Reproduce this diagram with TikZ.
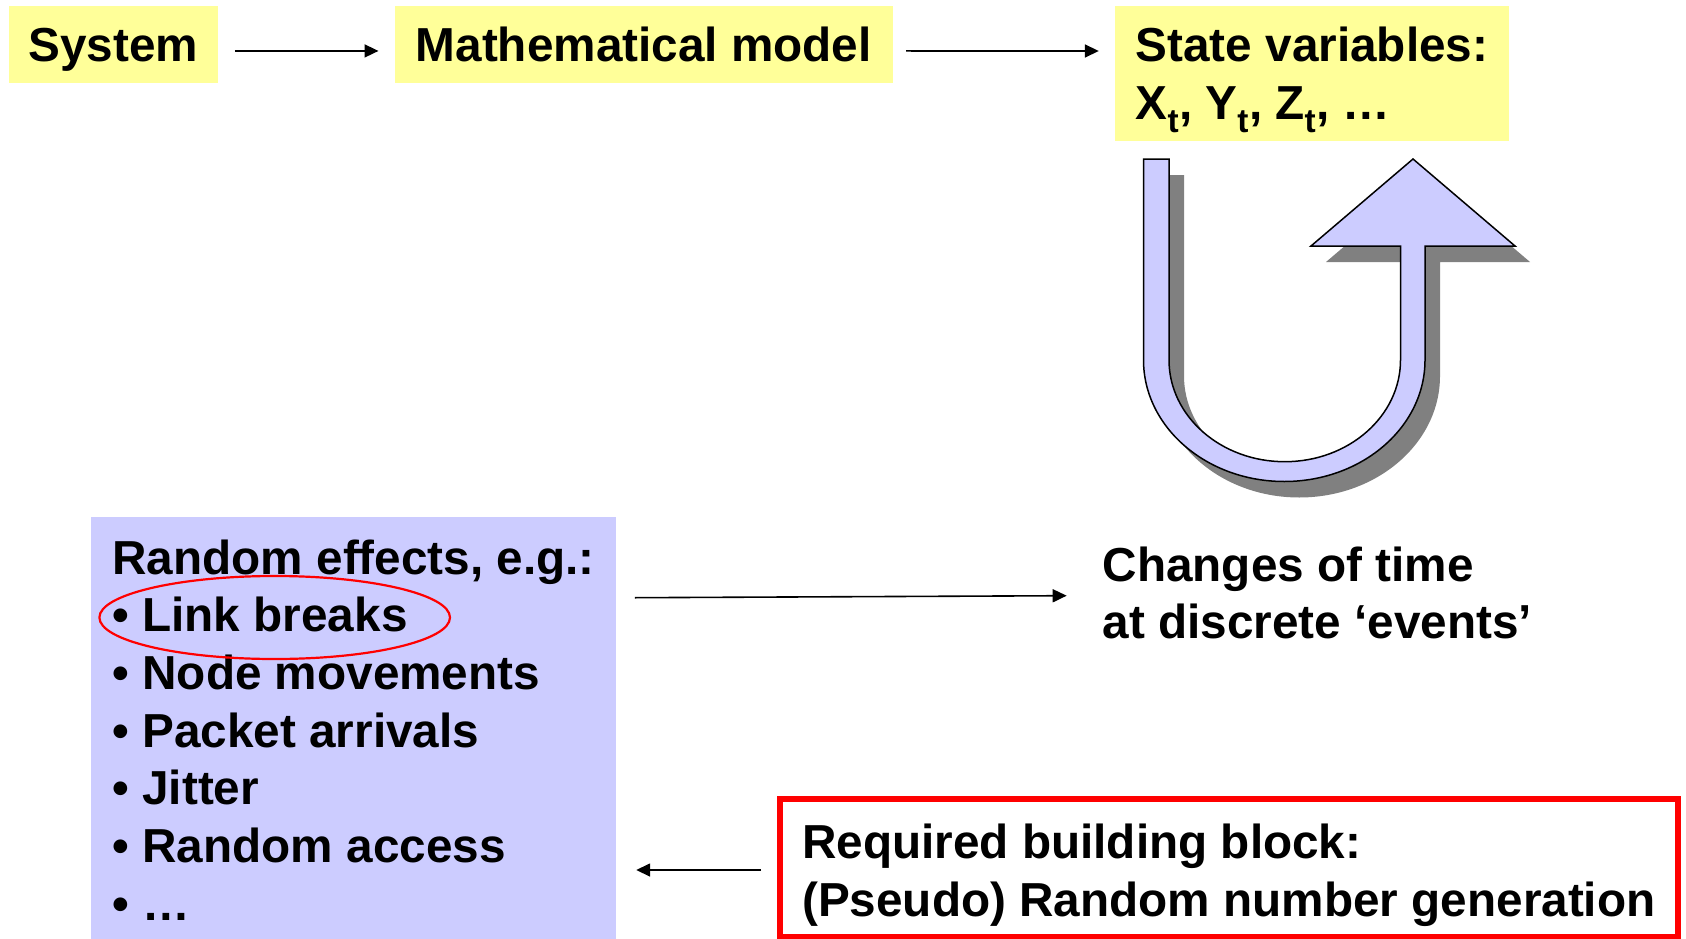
\documentclass[tikz,border=0pt]{standalone}
\usepackage{fontspec}
\setmainfont{Liberation Sans}
\usetikzlibrary{arrows.meta}
\definecolor{boxyellow}{HTML}{FFFF99}
\definecolor{boxlav}{HTML}{CCCCFF}
\definecolor{shadowgray}{HTML}{808080}
\definecolor{hlred}{HTML}{FF0000}
\begin{document}
\begin{tikzpicture}[x=1pt,y=1pt,
  every node/.style={font=\fontsize{47.7}{57.7}\selectfont\bfseries, inner sep=0pt},
  ybox/.style={fill=boxyellow, text height=34.2pt, text depth=0pt},
  conn/.style={line width=1.6pt, -{Triangle[length=14pt,width=13pt]}},
  uarrow/.style={fill=boxlav, draw=black, line width=1.5pt, line join=miter},
]
\useasboundingbox (0,0) rectangle (1686,-939);

% shadow of the U-turn arrow
\begin{scope}[shift={(15pt,-16pt)}]
\fill[shadowgray] (1143.5,-159) -- (1143.5,-360)
  arc[start angle=180,end angle=360,x radius=140.75pt,y radius=121.5pt]
  -- (1425,-246) -- (1515,-246) -- (1413,-159) -- (1311,-246) -- (1400.5,-246) -- (1400.5,-360)
  arc[start angle=0,end angle=-180,x radius=115.75pt,y radius=101.7pt]
  -- (1169,-159) -- cycle;
\end{scope}
% U-turn arrow
\draw[uarrow] (1143.5,-159) -- (1143.5,-360)
  arc[start angle=180,end angle=360,x radius=140.75pt,y radius=121.5pt]
  -- (1425,-246) -- (1515,-246) -- (1413,-159) -- (1311,-246) -- (1400.5,-246) -- (1400.5,-360)
  arc[start angle=0,end angle=-180,x radius=115.75pt,y radius=101.7pt]
  -- (1169,-159) -- cycle;

% top row
\node[ybox, minimum width=209.4pt, minimum height=76.7pt] (sys) at (113.3,-44.35) {System};
\node[ybox, minimum width=497.6pt, minimum height=76.7pt] (math) at (643.8,-44.35) {Mathematical model};
\node[fill=boxyellow, minimum width=394pt, minimum height=134.7pt, text height=34.2pt, text depth=57.6pt] (state) at (1312,-73.35)
  {\vtop{\hbox{State variables:}\hbox{X\textsubscript{t}, Y\textsubscript{t}, Z\textsubscript{t}, …}}};

% random effects list
\node[fill=boxlav, minimum width=524.6pt, minimum height=421.7pt, text height=34.2pt, text depth=342.5pt] (rand) at (353.7,-728.15)
  {\vtop{\hbox{Random effects, e.g.:}\hbox{• Link breaks}\hbox{• Node movements}\hbox{• Packet arrivals}\hbox{• Jitter}\hbox{• Random access}\hbox{• …}}};
\draw[hlred, line width=2.2pt] (274.7,-617.5) ellipse [x radius=175.3pt, y radius=41.5pt];

% changes of time
\node[anchor=base west] (chg) at (1102.5,-581)
  {\vtop{\hbox{Changes of time}\hbox{at discrete ‘events’}}};

% random number generation
\node[draw=hlred, line width=6pt, minimum width=898.3pt, minimum height=137.7pt, text height=34.2pt, text depth=52.6pt] (rng) at (1228.85,-868.15)
  {\vtop{\hbox{Required building block:}\hbox{(Pseudo) Random number generation}}};

% connectors
\draw[conn] ([shift={(16.7pt,-6.6pt)}]sys.east) -- ([shift={(-16.3pt,-6.6pt)}]math.west);
\draw[conn] ([shift={(13.4pt,-6.6pt)}]math.east) -- ([shift={(-16pt,22.35pt)}]state.west);
\draw[conn] ([shift={(18.7pt,130.45pt)}]rand.east) -- ([shift={(-35.8pt,-14.7pt)}]chg.base west);
\draw[conn] ([shift={(-15.7pt,-1.85pt)}]rng.west) -- ([shift={(20pt,-141.85pt)}]rand.east);
\end{tikzpicture}
\end{document}
